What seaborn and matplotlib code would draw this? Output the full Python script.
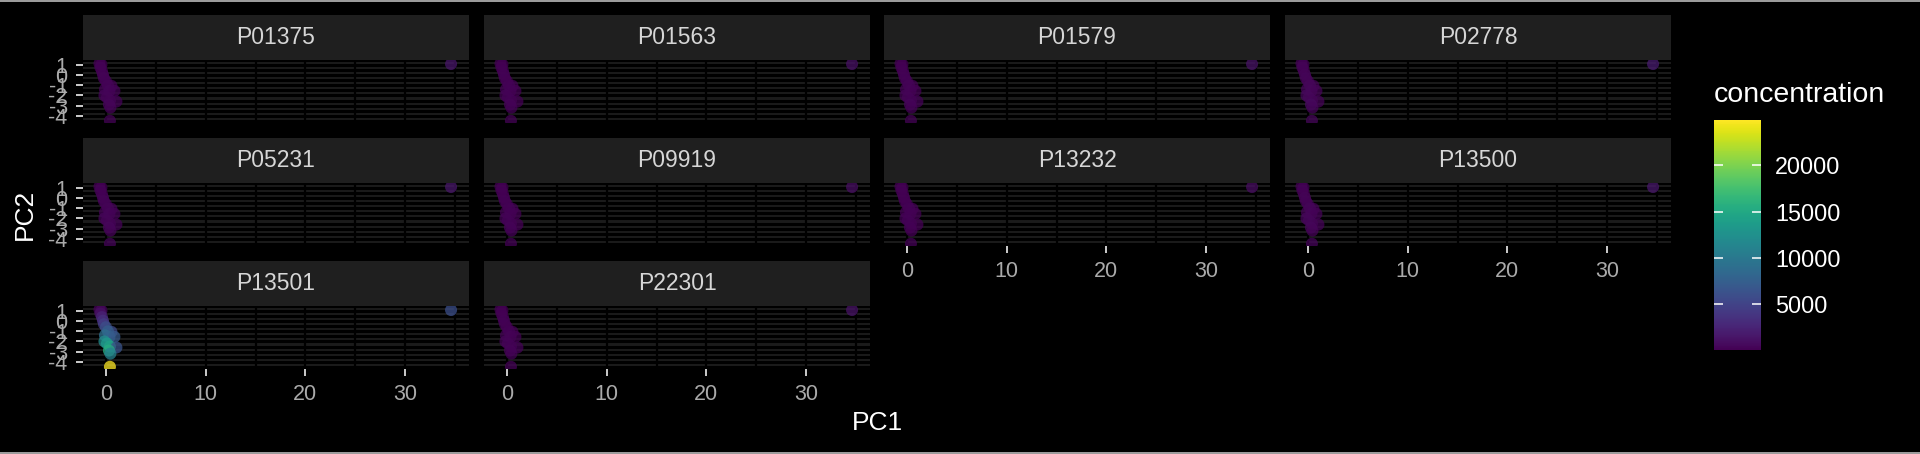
import numpy as np
import pandas as pd
import seaborn as sns
import matplotlib.pyplot as plt
from matplotlib.colors import Normalize
from matplotlib.cm import ScalarMappable
from matplotlib.lines import Line2D
from matplotlib.ticker import MultipleLocator

# shared PCA coordinates (same samples in every facet)
pc1 = [-0.65, -0.45, -0.55, -0.40, -0.30, -0.20, 0.00, 0.55, 0.20, -0.10,
       0.35, 0.85, -0.15, 0.10, 0.40, 1.05, 0.30, 0.45, 0.40, 34.6]
pc2 = [1.15, 1.05, 0.75, 0.40, 0.05, -0.30, -0.60, -1.05, -1.00, -1.40,
       -1.55, -1.55, -2.00, -2.20, -2.50, -2.60, -2.90, -3.20, -4.50, 1.10]

proteins = ["P01375", "P01563", "P01579", "P02778", "P05231",
            "P09919", "P13232", "P13500", "P13501", "P22301"]

# concentration per protein, one value per sample
conc_P01375 = [80, 120, 150, 90, 200, 260, 180, 140, 300, 220, 350, 160, 400, 310, 280, 190, 420, 260, 330, 1500]
conc_P01563 = [60, 90, 110, 70, 150, 180, 130, 100, 210, 170, 240, 120, 300, 230, 200, 140, 320, 190, 250, 1200]
conc_P01579 = [70, 100, 130, 80, 170, 200, 150, 120, 250, 190, 280, 140, 340, 260, 230, 160, 360, 210, 290, 1300]
conc_P02778 = [150, 220, 260, 180, 330, 400, 300, 240, 480, 380, 520, 290, 610, 470, 430, 310, 650, 400, 500, 1900]
conc_P05231 = [90, 140, 160, 110, 210, 270, 190, 150, 320, 240, 370, 170, 430, 330, 300, 200, 450, 280, 350, 1600]
conc_P09919 = [55, 80, 95, 65, 120, 150, 110, 90, 180, 140, 200, 100, 250, 190, 170, 120, 270, 160, 210, 1000]
conc_P13232 = [50, 70, 85, 60, 110, 130, 100, 80, 160, 120, 180, 90, 220, 170, 150, 110, 240, 140, 190, 900]
conc_P13500 = [100, 160, 190, 130, 250, 310, 230, 180, 370, 290, 420, 210, 500, 380, 350, 240, 530, 330, 410, 1700]
conc_P13501 = [300, 600, 1200, 2500, 3500, 4500, 6000, 5500, 7500, 9000,
               8000, 7000, 12000, 13500, 14500, 6500, 15500, 11000, 24900, 6000]
conc_P22301 = [65, 95, 120, 75, 160, 190, 140, 110, 230, 180, 260, 130, 320, 250, 220, 150, 340, 200, 270, 1250]

conc = [conc_P01375, conc_P01563, conc_P01579, conc_P02778, conc_P05231,
        conc_P09919, conc_P13232, conc_P13500, conc_P13501, conc_P22301]

df = pd.concat([pd.DataFrame({"PC1": pc1, "PC2": pc2, "concentration": c, "protein": p})
                for p, c in zip(proteins, conc)], ignore_index=True)

W, H = 1920, 454
plt.rcParams["font.family"] = ["Liberation Sans", "DejaVu Sans"]
plt.rcParams["axes.unicode_minus"] = False

fig = plt.figure(figsize=(W / 100, H / 100), dpi=100, facecolor="black")


def rect(x, top, w, h):
    return [x / W, (H - top - h) / H, w / W, h / H]


norm = Normalize(df["concentration"].min(), df["concentration"].max())
col_x = [83, 484, 884, 1285]
row_top = [60, 183, 306]
pw, ph, sh = 386, 63, 45
tick_grey = "#aaaaaa"

for i, p in enumerate(proteins):
    r, c = divmod(i, 4)
    ax = fig.add_axes(rect(col_x[c], row_top[r], pw, ph))
    ax.set_facecolor("#1b1b1b")
    sub = df[df["protein"] == p]
    sns.scatterplot(data=sub, x="PC1", y="PC2", hue="concentration", palette="viridis",
                    hue_norm=norm, s=75, alpha=0.75, linewidth=0, legend=False, ax=ax, zorder=3)
    ax.set_xlim(-2.3, 36.4)
    ax.set_ylim(-4.72, 1.5)
    ax.set_xticks([0, 10, 20, 30])
    ax.set_yticks([1, 0, -1, -2, -3, -4])
    ax.xaxis.set_minor_locator(MultipleLocator(5))
    ax.yaxis.set_minor_locator(MultipleLocator(0.5))
    ax.grid(which="both", axis="y", color="black", lw=2.2)
    ax.grid(which="both", axis="x", color="black", lw=1.6)
    ax.set_axisbelow(True)
    for s in ax.spines.values():
        s.set_visible(False)
    ax.tick_params(which="minor", length=0)
    ax.tick_params(which="major", length=5, width=1.4, color="#cccccc",
                   labelcolor=tick_grey, labelsize=15.5, pad=6)
    ax.set_xlabel("")
    ax.set_ylabel("")
    bottom_visible = (r == 2) or (r == 1 and c >= 2)
    if not bottom_visible:
        ax.tick_params(axis="x", bottom=False, labelbottom=False)
    if c != 0:
        ax.tick_params(axis="y", left=False, labelleft=False)

    sax = fig.add_axes(rect(col_x[c], row_top[r] - sh, pw, sh))
    sax.set_facecolor("#1f1f1f")
    sax.set_xticks([])
    sax.set_yticks([])
    for s in sax.spines.values():
        s.set_visible(False)
    sax.text(0.5, 0.5, p, ha="center", va="center", color="#d6d6d6",
             fontsize=16.5, transform=sax.transAxes)

fig.text(877 / W, 1 - 423 / H, "PC1", ha="center", va="center", color="white", fontsize=19)
fig.text(25 / W, 1 - 214 / H, "PC2", ha="center", va="center", color="white",
         fontsize=19, rotation=90)

# colour bar legend
cax = fig.add_axes(rect(1714, 120, 47, 230))
cb = fig.colorbar(ScalarMappable(norm=norm, cmap="viridis"), cax=cax)
cb.outline.set_visible(False)
cb.set_ticks([5000, 10000, 15000, 20000])
cax.tick_params(direction="in", length=6.5, width=1.1, color="white", left=True, right=True,
                labelcolor="white", labelsize=16.8, pad=10)
fig.text(1714 / W, 1 - 95 / H, "concentration", ha="left", va="center", color="white", fontsize=20.5)

# thin frame lines at top and bottom edge
fig.add_artist(Line2D([0, 1], [1 - 0.6 / H, 1 - 0.6 / H], color="#bbbbbb", lw=1.2))
fig.add_artist(Line2D([0, 1], [1.4 / H, 1.4 / H], color="#bbbbbb", lw=1.2))

fig.savefig("out.png", dpi=100, facecolor="black")
